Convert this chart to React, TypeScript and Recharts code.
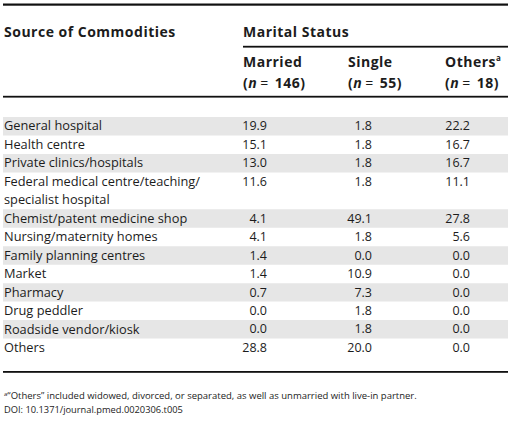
import React from 'react';
import { ComposedChart, Bar, XAxis, YAxis, ReferenceArea, LabelList } from 'recharts';

const sources = [
  'General hospital',
  'Health centre',
  'Private clinics/hospitals',
  'Federal medical centre/teaching/\nspecialist hospital',
  'Chemist/patent medicine shop',
  'Nursing/maternity homes',
  'Family planning centres',
  'Market',
  'Pharmacy',
  'Drug peddler',
  'Roadside vendor/kiosk',
  'Others',
];
const married = [19.9, 15.1, 13.0, 11.6, 4.1, 4.1, 1.4, 1.4, 0.7, 0.0, 0.0, 28.8];
const single = [1.8, 1.8, 1.8, 1.8, 49.1, 1.8, 0.0, 10.9, 7.3, 1.8, 1.8, 20.0];
const others = [22.2, 16.7, 16.7, 11.1, 27.8, 5.6, 0.0, 0.0, 0.0, 0.0, 0.0, 0.0];

const groupNames = ['Married', 'Single', 'Others'];
const groupN = [146, 55, 18];
const seriesKeys = ['married', 'single', 'others'];

const rowTitle = 'Source of Commodities';
const groupTitle = 'Marital Status';
const footnote = '\u201cOthers\u201d included widowed, divorced, or separated, as well as unmarried with live-in partner.';
const doi = 'DOI: 10.1371/journal.pmed.0020306.t005';

const rows: any[] = [];
const bands: { from: string; to: string }[] = [];
sources.forEach((s, i) => {
  const lines = s.split('\n');
  lines.forEach((ln, j) => {
    if (j === 0) rows.push({ cat: ln, married: married[i], single: single[i], others: others[i] });
    else rows.push({ cat: ln });
  });
  if (i % 2 === 0) bands.push({ from: lines[0], to: lines[lines.length - 1] });
});

const FONT = '"Open Sans", sans-serif';
const INK = '#1c1c1c';
const headX = [243, 348, 445];
const valRight = [267, 372, 470];
const BODY = 12.5;
const HEAD = 14;

const cellY = (props: any) => {
  const vb = props.viewBox || {};
  const y = props.y ?? vb.y;
  const h = props.height ?? vb.height;
  return y + h / 2;
};

const nameLabel = (props: any) => {
  if (props.value == null) return null;
  return (
    <text x={4} y={cellY(props)} dy="0.35em" fontFamily={FONT} fontSize={12.8} fill={INK}>
      {props.value}
    </text>
  );
};

const makeLabel = (col: number) => (props: any) => {
  const v = props.value;
  if (v == null || v === '') return null;
  return (
    <text
      x={valRight[col]}
      y={cellY(props)}
      dy="0.35em"
      textAnchor="end"
      fontFamily={FONT}
      fontSize={BODY}
      fill={INK}
    >
      {Number(v).toFixed(1)}
    </text>
  );
};

const headStyle = { fontFamily: FONT, fontWeight: 700, fontSize: HEAD, fill: INK, letterSpacing: 0.5 } as any;

export default function App() {
  return (
    <div style={{ position: 'absolute', left: 0, top: 0, width: 512, height: 425, background: '#fff' }}>
      <ComposedChart
        width={512}
        height={425}
        data={rows}
        layout="vertical"
        margin={{ top: 117, bottom: 68, left: 3, right: 4 }}
        barCategoryGap={0}
      >
        <XAxis type="number" hide domain={[0, 100]} />
        <YAxis type="category" dataKey="cat" hide />
        {bands.map((b) => (
          <ReferenceArea key={b.from} y1={b.from} y2={b.to} fill="#e6e6e6" fillOpacity={1} stroke="none" ifOverflow="visible" />
        ))}
        {seriesKeys.map((k, i) => (
          <Bar key={k} dataKey={() => 1} stackId="s" fill="transparent" isAnimationActive={false}>
            {i === 0 ? <LabelList dataKey="cat" content={nameLabel} /> : null}
            <LabelList dataKey={k} content={makeLabel(i)} />
          </Bar>
        ))}
        <g>
          <rect x={3} y={3.5} width={505} height={2.2} fill="#111" />
          <text x={4} y={37} style={headStyle}>{rowTitle}</text>
          <text x={243} y={37} style={headStyle}>{groupTitle}</text>
          <rect x={243} y={45.8} width={265} height={1.8} fill="#111" />
          {groupNames.map((g, i) => (
            <g key={g}>
              <text x={headX[i]} y={66.5} style={headStyle}>
                {g}
                {i === 2 ? <tspan dy={-6} fontSize={8}>a</tspan> : null}
              </text>
              <text x={headX[i]} y={88} style={headStyle}>
                (<tspan fontStyle="italic">n</tspan>
                <tspan dx={3} fontWeight={400}>=</tspan>
                <tspan dx={6}>{groupN[i]})</tspan>
              </text>
            </g>
          ))}
          <rect x={3} y={95.8} width={505} height={1.8} fill="#111" />
          <rect x={3} y={371} width={505} height={1.8} fill="#111" />
          <text x={4} y={399} fontFamily={FONT} fontSize={9.5} fill={INK}>
            <tspan dy={-3.5} fontSize={6}>a</tspan>
            <tspan dy={3.5}>{footnote}</tspan>
          </text>
          <text x={4} y={413} fontFamily={FONT} fontSize={9.3} fill={INK}>{doi}</text>
        </g>
      </ComposedChart>
    </div>
  );
}
